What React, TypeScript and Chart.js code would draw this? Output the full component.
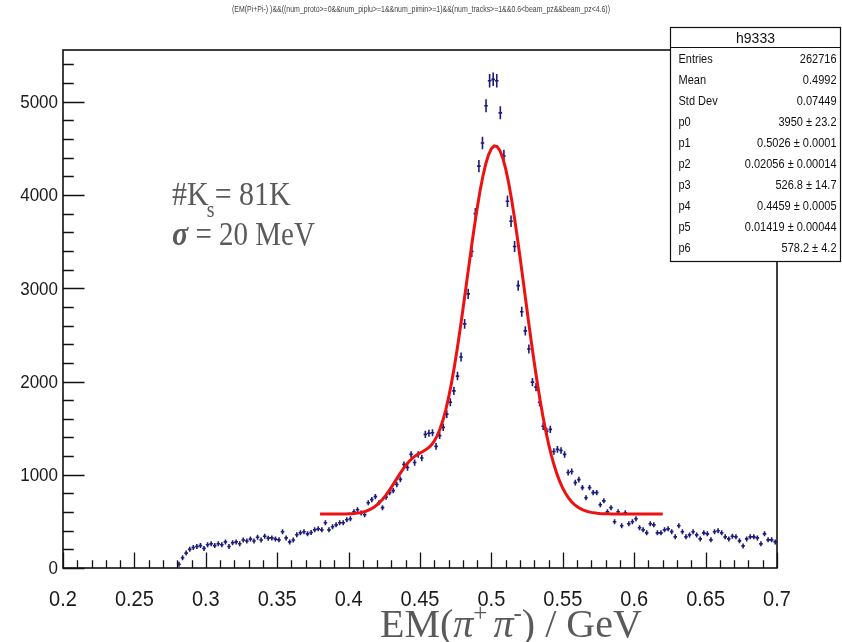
import React, { useEffect, useRef } from "react";
import { Chart, registerables } from "chart.js";

Chart.register(...registerables);

// Histogram binning (GeV)
const binWidth = 0.0025;
const firstBinCenter = 0.28125;

// Entries per bin, starting at firstBinCenter
const histCounts: number[] = [
  40, 110, 160, 200, 220, 230, 240, 210, 250, 260, 240, 260, 250, 280, 230, 270,
  280, 260, 300, 290, 310, 290, 330, 300, 340, 320,
  323, 310, 302, 388, 323, 280, 300, 356, 377, 388, 366, 380, 409, 420, 409, 485,
  409, 442, 463, 485, 485, 517, 528,
  603, 625, 590, 571, 700, 733, 765, 700, 647, 760, 808, 830,
  895, 950, 1110, 1077, 1218, 1131, 1218, 1180, 1433, 1445, 1450, 1304, 1420, 1508,
  1650, 1778, 1900, 2058, 2263,
  2618, 2940, 3394, 3800, 4310, 4558, 4957, 5226, 5240, 5226, 4881, 4418, 3933, 3718,
  3448, 3028,
  2748, 2543, 2349, 1993, 1940, 1778, 1520, 1466, 1487, 1250, 1272, 1260, 1218, 1024,
  1035, 916, 948, 862, 754, 862, 808, 808, 679, 720,
  603, 647, 496, 603, 453, 593, 474, 496, 528, 431, 409, 377, 474, 463, 377, 377,
  409, 420, 390, 334, 453, 388, 334, 355, 388, 355, 312, 377, 366, 302, 388, 399,
  377, 334, 312,
  340, 334, 291, 237, 312, 334, 334, 323, 259, 366, 302, 302, 280,
];

// Fit: p0*gaus(p1,p2) + p3*gaus(p4,p5) + p6
const fitParams = [3950, 0.5026, 0.02056, 526.8, 0.4459, 0.01419, 578.2];
const fitRange = [0.38, 0.62];
const fitSamples = 121;

// Axes
const xMin = 0.2;
const xMax = 0.7;
const yMin = 0;
const yMax = 5555;
const xTickLabels = [0.2, 0.25, 0.3, 0.35, 0.4, 0.45, 0.5, 0.55, 0.6, 0.65, 0.7];
const xMinorStep = 0.01;
const yTickLabels = [0, 1000, 2000, 3000, 4000, 5000];
const yMinorStep = 200;

// Stats box
const statsTitle = "h9333";
const statsNames = ["Entries", "Mean", "Std Dev", "p0", "p1", "p2", "p3", "p4", "p5", "p6"];
const statsValues = [
  "262716",
  "0.4992",
  "0.07449",
  "3950 \u00b1 23.2",
  "0.5026 \u00b1 0.0001",
  "0.02056 \u00b1 0.00014",
  "526.8 \u00b1 14.7",
  "0.4459 \u00b1 0.0005",
  "0.01419 \u00b1 0.00044",
  "578.2 \u00b1 4.2",
];

const histTitle =
  "(EM(Pi+Pi-) )&&((num_proto>=0&&num_piplu>=1&&num_pimin>=1)&&(num_tracks>=1&&0.6<beam_pz&&beam_pz<4.6))";

const SANS = '"Liberation Sans", Arial, sans-serif';
const SERIF = '"Liberation Serif", "DejaVu Serif", serif';
const MARKER = "#1c1c78";
const TEXT_GREY = "#5a5a5a";

function fitValue(x: number): number {
  const [p0, p1, p2, p3, p4, p5, p6] = fitParams;
  const g1 = Math.exp(-0.5 * ((x - p1) / p2) ** 2);
  const g2 = Math.exp(-0.5 * ((x - p4) / p5) ** 2);
  return p0 * g1 + p3 * g2 + p6;
}

const histPoints = histCounts.map((v, i) => ({ x: firstBinCenter + i * binWidth, y: v }));
const fitPoints = Array.from({ length: fitSamples }, (_, i) => {
  const x = fitRange[0] + ((fitRange[1] - fitRange[0]) * i) / (fitSamples - 1);
  return { x, y: fitValue(x) };
});

// text drawn with a vertical stretch around its anchor point
function tallText(ctx: CanvasRenderingContext2D, txt: string, x: number, y: number, sy: number) {
  ctx.save();
  ctx.translate(x, y);
  ctx.scale(1, sy);
  ctx.fillText(txt, 0, 0);
  ctx.restore();
}

// Error-bar crosses for the histogram, drawn under the fit curve
const errorBarPlugin = {
  id: "errorBars",
  beforeDatasetsDraw(chart: any) {
    const ctx = chart.ctx;
    const xs = chart.scales.x;
    const ys = chart.scales.y;
    ctx.save();
    ctx.strokeStyle = MARKER;
    ctx.lineWidth = 1.6;
    ctx.beginPath();
    histPoints.forEach((p) => {
      const px = xs.getPixelForValue(p.x);
      const py = ys.getPixelForValue(p.y);
      const xl = xs.getPixelForValue(p.x - binWidth / 2);
      const xr = xs.getPixelForValue(p.x + binWidth / 2);
      const err = Math.sqrt(p.y);
      const yt = ys.getPixelForValue(p.y + err);
      const yb = ys.getPixelForValue(Math.max(0, p.y - err));
      ctx.moveTo(xl, py);
      ctx.lineTo(xr, py);
      ctx.moveTo(px, Math.min(yt, py - 2.5));
      ctx.lineTo(px, Math.max(yb, py + 2.5));
    });
    ctx.stroke();
    ctx.restore();
  },
};

// Frame, inward ticks, labels, title, annotations and stats box
const decorPlugin = {
  id: "decor",
  afterDraw(chart: any) {
    const ctx = chart.ctx;
    const xs = chart.scales.x;
    const ys = chart.scales.y;
    const { left, right, top, bottom } = chart.chartArea;
    ctx.save();

    // ticks
    ctx.strokeStyle = "#111";
    ctx.lineWidth = 1.3;
    ctx.beginPath();
    const xMajLen = 15.5;
    const yMajLen = 21.5;
    for (let v = xMin; v <= xMax + 1e-9; v += xMinorStep) {
      const px = Math.round(xs.getPixelForValue(v)) + 0.5;
      const major = xTickLabels.some((t) => Math.abs(t - v) < 1e-6);
      ctx.moveTo(px, bottom);
      ctx.lineTo(px, bottom - (major ? xMajLen : xMajLen / 2));
    }
    for (let v = yMin; v <= yMax; v += yMinorStep) {
      const py = Math.round(ys.getPixelForValue(v)) + 0.5;
      const major = yTickLabels.includes(v);
      ctx.moveTo(left, py);
      ctx.lineTo(left + (major ? yMajLen : yMajLen / 2), py);
    }
    ctx.stroke();

    // frame
    ctx.lineWidth = 1.6;
    ctx.strokeStyle = "#111";
    ctx.strokeRect(left, top, right - left, bottom - top);

    // tick labels
    ctx.fillStyle = "#1a1a1a";
    ctx.font = `20px ${SANS}`;
    ctx.textAlign = "center";
    ctx.textBaseline = "middle";
    xTickLabels.forEach((t) => {
      tallText(ctx, String(t), xs.getPixelForValue(t), bottom + 32, 1.12);
    });
    ctx.font = `17px ${SANS}`;
    ctx.textAlign = "right";
    ctx.textBaseline = "middle";
    yTickLabels.forEach((t) => {
      tallText(ctx, String(t), left - 5, ys.getPixelForValue(t) + 1, 1.12);
    });

    // axis title: EM(π⁺ π⁻) / GeV
    ctx.fillStyle = TEXT_GREY;
    ctx.textAlign = "left";
    ctx.textBaseline = "alphabetic";
    const base = 637;
    let cx = 380;
    const big = `40px ${SERIF}`;
    const bigIt = `italic 40px ${SERIF}`;
    const sup = `25px ${SERIF}`;
    const seg = (txt: string, font: string, dy = 0) => {
      ctx.font = font;
      ctx.fillText(txt, cx, base + dy);
      cx += ctx.measureText(txt).width;
    };
    seg("EM(", big);
    seg("\u03c0", bigIt);
    seg("+", sup, -16);
    cx += 6;
    seg("\u03c0", bigIt);
    seg("-", sup, -16);
    seg(") / GeV", big);

    // annotation
    cx = 172;
    const ann = `30px ${SERIF}`;
    const annLine1 = 205;
    ctx.font = ann;
    tallText(ctx, "#K", cx, annLine1, 1.15);
    cx += ctx.measureText("#K").width;
    ctx.font = `20px ${SERIF}`;
    tallText(ctx, "s", cx - 2, annLine1 + 12, 1.15);
    cx += 6;
    ctx.font = ann;
    tallText(ctx, "= 81K", cx, annLine1, 1.15);
    const annLine2 = 245;
    ctx.font = `bold italic 30px ${SERIF}`;
    tallText(ctx, "\u03c3", 172, annLine2, 1.15);
    const sw = ctx.measureText("\u03c3").width;
    ctx.font = `29px ${SERIF}`;
    tallText(ctx, " = 20 MeV", 172 + sw, annLine2, 1.18);

    // title, fitted into its span
    ctx.fillStyle = "#444";
    ctx.font = `8px ${SANS}`;
    ctx.textAlign = "center";
    ctx.textBaseline = "middle";
    const tw = ctx.measureText(histTitle).width;
    ctx.save();
    ctx.translate(421, 10);
    ctx.scale(378 / tw, 1.1);
    ctx.fillText(histTitle, 0, 0);
    ctx.restore();

    // stats box
    const bx = 670.5;
    const by = 27.5;
    const bw = 170;
    const bh = 234;
    ctx.fillStyle = "#fff";
    ctx.fillRect(bx, by, bw, bh);
    ctx.strokeStyle = "#111";
    ctx.lineWidth = 1.2;
    ctx.strokeRect(bx, by, bw, bh);
    ctx.beginPath();
    ctx.moveTo(bx, by + 20);
    ctx.lineTo(bx + bw, by + 20);
    ctx.stroke();
    ctx.fillStyle = "#111";
    ctx.font = `14px ${SANS}`;
    ctx.textAlign = "center";
    tallText(ctx, statsTitle, bx + bw / 2, by + 11, 1.1);
    ctx.font = `11px ${SANS}`;
    statsNames.forEach((name, i) => {
      const ry = 60 + i * 21;
      ctx.textAlign = "left";
      tallText(ctx, name, bx + 8, ry, 1.1);
      ctx.textAlign = "right";
      tallText(ctx, statsValues[i], bx + bw - 4, ry, 1.1);
    });

    ctx.restore();
  },
};

export default function App() {
  const canvasRef = useRef<HTMLCanvasElement | null>(null);

  useEffect(() => {
    const canvas = canvasRef.current;
    if (!canvas) return;
    const chart = new Chart(canvas, {
      type: "scatter",
      data: {
        datasets: [
          {
            label: "fit",
            type: "line",
            data: fitPoints,
            borderColor: "#ee1111",
            borderWidth: 3,
            pointRadius: 0,
            fill: false,
            tension: 0,
            order: 0,
          },
          {
            label: "h9333",
            data: histPoints,
            pointRadius: 0,
            showLine: false,
            order: 1,
          },
        ],
      },
      options: {
        animation: false,
        responsive: false,
        devicePixelRatio: 1,
        layout: { padding: { left: 63, right: 65, top: 50, bottom: 74 } },
        plugins: { legend: { display: false }, tooltip: { enabled: false } },
        scales: {
          x: { type: "linear", min: xMin, max: xMax, display: false },
          y: { type: "linear", min: yMin, max: yMax, display: false },
        },
      },
      plugins: [errorBarPlugin, decorPlugin],
    });
    return () => chart.destroy();
  }, []);

  return (
    <div style={{ position: "absolute", left: 0, top: 0, width: 842, height: 642, background: "#fff" }}>
      <canvas ref={canvasRef} width={842} height={642} />
    </div>
  );
}
